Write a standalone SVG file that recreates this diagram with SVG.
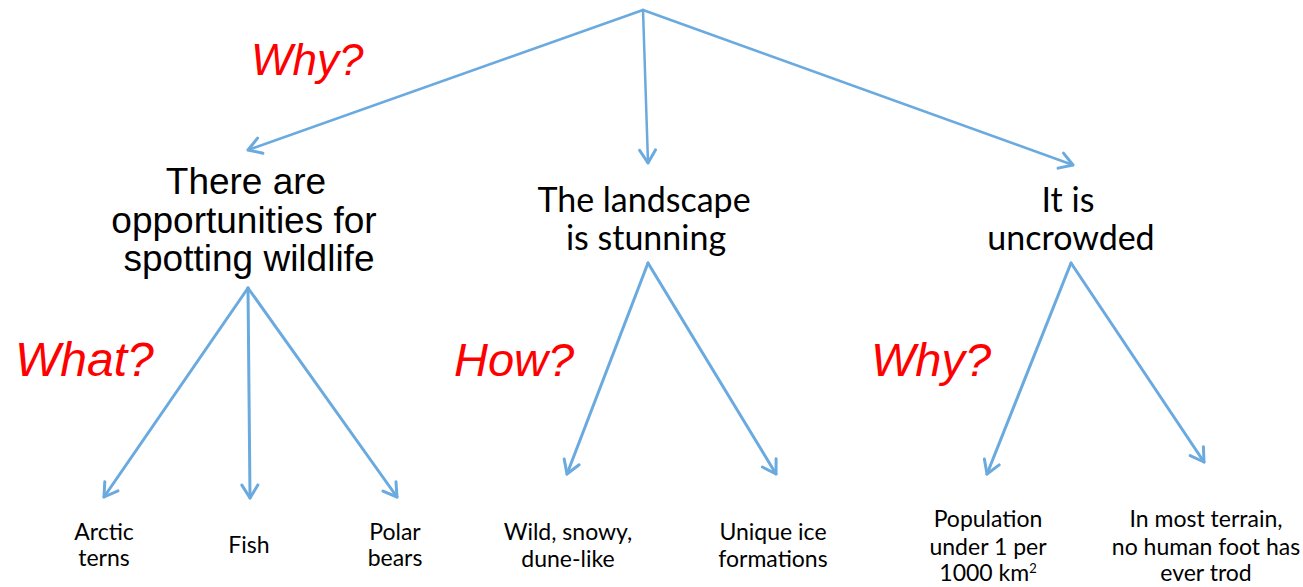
<svg xmlns="http://www.w3.org/2000/svg" width="1303" height="587" viewBox="0 0 1303 587">
  <style>
    .edge { fill: none; stroke: #6aaadf; stroke-width: 3; stroke-linecap: round; }
    .edge.top { stroke-width: 2.5; }
    .q { font-family: "Liberation Sans", Arial, sans-serif; font-style: italic; fill: #ff0000; }
    .head { font-family: "Liberation Sans", Arial, sans-serif; font-size: 37px; fill: #000; text-anchor: middle; }
    .mid { font-family: Lato, "Noto Sans", sans-serif; font-size: 34px; fill: #000; text-anchor: middle; }
    .leaf { font-family: Lato, "Noto Sans", sans-serif; font-size: 23px; fill: #000; text-anchor: middle; }
  </style>
  <defs>
    <marker id="chev" viewBox="0 0 20 20" refX="17" refY="10" markerWidth="20" markerHeight="20" markerUnits="userSpaceOnUse" orient="auto">
      <path d="M4,2 L17,10 L4,18" fill="none" stroke="#6aaadf" stroke-width="3" stroke-linecap="round" stroke-linejoin="round"/>
    </marker>
  </defs>
  <rect width="1303" height="587" fill="#ffffff"/>

  <!-- connectors -->
  <g id="connectors">
    <line class="edge top" x1="643" y1="10" x2="248" y2="150" marker-end="url(#chev)"/>
    <line class="edge top" x1="643" y1="10" x2="648" y2="163" marker-end="url(#chev)"/>
    <line class="edge top" x1="643" y1="10" x2="1073" y2="165" marker-end="url(#chev)"/>

    <line class="edge" x1="248" y1="288" x2="104" y2="497" marker-end="url(#chev)"/>
    <line class="edge" x1="248" y1="288" x2="250" y2="498" marker-end="url(#chev)"/>
    <line class="edge" x1="248" y1="288" x2="397" y2="497" marker-end="url(#chev)"/>

    <line class="edge" x1="648" y1="263" x2="567" y2="474" marker-end="url(#chev)"/>
    <line class="edge" x1="648" y1="263" x2="776" y2="474" marker-end="url(#chev)"/>

    <line class="edge" x1="1071" y1="263" x2="987" y2="474" marker-end="url(#chev)"/>
    <line class="edge" x1="1071" y1="263" x2="1204" y2="462" marker-end="url(#chev)"/>
  </g>

  <!-- question labels -->
  <g id="questions">
    <text class="q" x="251" y="75" font-size="44">Why?</text>
    <text class="q" x="15" y="376" font-size="48">What?</text>
    <text class="q" x="454" y="376" font-size="47">How?</text>
    <text class="q" x="871" y="376" font-size="47">Why?</text>
  </g>

  <g id="wildlife">
    <text class="head" x="246" y="194">There are</text>
    <text class="head" x="244" y="233">opportunities for</text>
    <text class="head" x="249" y="271">spotting wildlife</text>
  </g>

  <g id="landscape">
    <text class="mid" x="644" y="212">The landscape</text>
    <text class="mid" x="646" y="250">is stunning</text>
  </g>

  <g id="uncrowded">
    <text class="mid" x="1068" y="212">It is</text>
    <text class="mid" x="1071" y="250">uncrowded</text>
  </g>

  <g id="arctic-terns">
    <text class="leaf" x="104" y="540">Arctic</text>
    <text class="leaf" x="104" y="566">terns</text>
  </g>

  <g id="fish">
    <text class="leaf" x="249" y="553">Fish</text>
  </g>

  <g id="polar-bears">
    <text class="leaf" x="395" y="540">Polar</text>
    <text class="leaf" x="395" y="566">bears</text>
  </g>

  <g id="wild-snowy">
    <text class="leaf" x="568" y="540">Wild, snowy,</text>
    <text class="leaf" x="568" y="567">dune-like</text>
  </g>

  <g id="ice-formations">
    <text class="leaf" x="773" y="540">Unique ice</text>
    <text class="leaf" x="773" y="567">formations</text>
  </g>

  <g id="population">
    <text class="leaf" x="988" y="527">Population</text>
    <text class="leaf" x="988" y="555">under 1 per</text>
    <text class="leaf" x="988" y="581">1000 km<tspan font-size="13" dy="-8">2</tspan></text>
  </g>

  <g id="untrodden">
    <text class="leaf" x="1206" y="527">In most terrain,</text>
    <text class="leaf" x="1206" y="555">no human foot has</text>
    <text class="leaf" x="1206" y="581">ever trod</text>
  </g>
</svg>
